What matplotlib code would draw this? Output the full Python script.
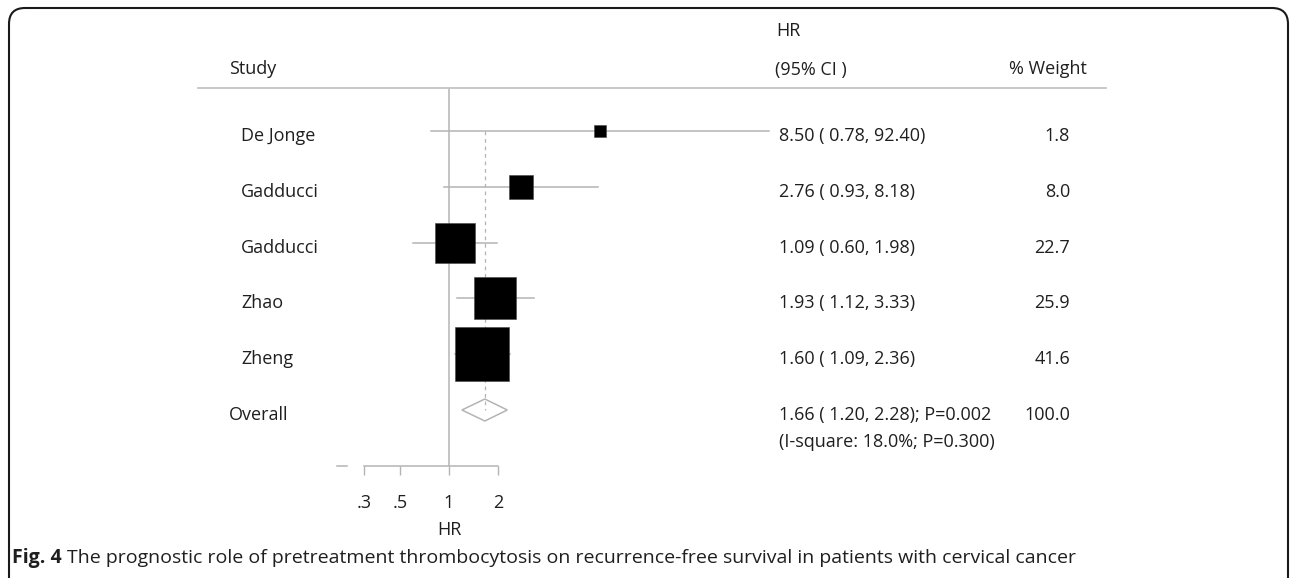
import numpy as np
import matplotlib
matplotlib.use('Agg')
import matplotlib.pyplot as plt
from matplotlib.patches import FancyBboxPatch, Polygon
from matplotlib.lines import Line2D
from matplotlib import transforms

plt.rcParams['font.family'] = ['Open Sans', 'DejaVu Sans']

# study level estimates
studies = ['De Jonge', 'Gadducci', 'Gadducci', 'Zhao', 'Zheng']
hr = [8.50, 2.76, 1.09, 1.93, 1.60]
lo = [0.78, 0.93, 0.60, 1.12, 1.09]
hi = [92.40, 8.18, 1.98, 3.33, 2.36]
weight = [1.8, 8.0, 22.7, 25.9, 41.6]

# pooled estimate
overall_hr = 1.66
overall_lo = 1.20
overall_hi = 2.28
overall_p = '0.002'
i2 = '18.0%'
i2_p = '0.300'

ticks = [0.3, 0.5, 1, 2]
tick_labels = ['.3', '.5', '1', '2']

W, H = 1290, 578
txt = '#1f1f1f'
grey = '#b4b4b4'
fs = 13
cap_fs = 14

fig = plt.figure(figsize=(W / 100, H / 100), dpi=100)

# log axis: 1 -> x=449px, 2 -> x=498px
K = 49 / np.log(2)
xmin, xmax = 0.18, 150
left_px = 449 + K * np.log(xmin)
right_px = 449 + K * np.log(xmax)
top_px, bot_px = 88, 466
row0, rowstep = 131, 55.8
ytop = (top_px - row0) / rowstep
ybot = (bot_px - row0) / rowstep

ax = fig.add_axes([left_px / W, 1 - bot_px / H, (right_px - left_px) / W, (bot_px - top_px) / H])
ax.set_xscale('log')
ax.set_xlim(xmin, xmax)
ax.set_ylim(ybot, ytop)
for s in ['top', 'right', 'left']:
    ax.spines[s].set_visible(False)
ax.spines['bottom'].set_bounds(0.3, 2)
ax.spines['bottom'].set_color(grey)
ax.spines['bottom'].set_linewidth(1.1)
ax.set_yticks([])
ax.xaxis.set_minor_locator(matplotlib.ticker.NullLocator())
ax.set_xticks(ticks)
ax.set_xticklabels(tick_labels)
ax.tick_params(axis='x', direction='out', length=6.5, width=1, color=grey,
               labelsize=fs, labelcolor=txt, pad=14)
ax.patch.set_visible(False)

# no-effect line
ax.axvline(1, color=grey, lw=1.1, zorder=1)
# small dash left of the axis
ax.plot([0.205, 0.235], [ybot, ybot], color=grey, lw=1.1, clip_on=False)

rows = np.arange(len(studies))
for i in rows:
    ax.plot([lo[i], hi[i]], [i, i], color=grey, lw=1.1, zorder=2)
    side = 8.4 * np.sqrt(weight[i]) * 0.72
    ax.plot(hr[i], i, marker='s', ms=side, color='black', mec='#444444', mew=0.4, zorder=3)

yo = len(studies)
dh = 11 / rowstep
diamond = Polygon([[overall_lo, yo], [overall_hr, yo - dh], [overall_hi, yo], [overall_hr, yo + dh]],
                  closed=True, facecolor='none', edgecolor=grey, lw=1.1, zorder=3)
ax.add_patch(diamond)
ax.plot([overall_hr, overall_hr], [0, yo], color=grey, lw=0.9, ls=(0, (3, 3)), zorder=2)

# text columns: x in figure pixels, y in data rows
tr = transforms.blended_transform_factory(fig.transFigure, ax.transData)
def px(x):
    return x / W

toff = 5 / rowstep
for i in rows:
    ax.text(px(241), i + toff, studies[i], transform=tr, ha='left', va='center', fontsize=fs, color=txt)
    ax.text(px(779), i + toff, f'{hr[i]:.2f} ( {lo[i]:.2f}, {hi[i]:.2f})', transform=tr,
            ha='left', va='center', fontsize=fs, color=txt)
    ax.text(px(1070), i + toff, f'{weight[i]:.1f}', transform=tr, ha='right', va='center',
            fontsize=fs, color=txt)

ax.text(px(229), yo + toff, 'Overall', transform=tr, ha='left', va='center', fontsize=fs, color=txt)
ax.text(px(779), yo + toff, f'{overall_hr:.2f} ( {overall_lo:.2f}, {overall_hi:.2f}); P={overall_p}',
        transform=tr, ha='left', va='center', fontsize=fs, color=txt)
ax.text(px(779), yo + toff + 27 / rowstep, f'(I-square: {i2}; P={i2_p})',
        transform=tr, ha='left', va='center', fontsize=fs, color=txt)
ax.text(px(1070), yo + toff, f'{sum(weight):.1f}', transform=tr, ha='right', va='center',
        fontsize=fs, color=txt)

# headers
fig.text(px(229), 1 - 69 / H, 'Study', ha='left', va='center', fontsize=fs, color=txt)
fig.text(px(776), 1 - 31 / H, 'HR', ha='left', va='center', fontsize=fs, color=txt)
fig.text(px(775), 1 - 70 / H, '(95% CI )', ha='left', va='center', fontsize=fs, color=txt)
fig.text(px(1087), 1 - 69 / H, '% Weight', ha='right', va='center', fontsize=fs, color=txt)
fig.add_artist(Line2D([px(198), px(1106)], [1 - 88 / H] * 2, color='#c4c4c4', lw=1.3))

# axis title
trx = transforms.blended_transform_factory(ax.transData, fig.transFigure)
ax.text(1, 1 - 530 / H, 'HR', transform=trx, ha='center', va='center', fontsize=fs, color=txt)

# rounded frame
frame = FancyBboxPatch((9, H - 595), 1288 - 9, 595 - 8, boxstyle='round,pad=0,rounding_size=16',
                       transform=None, facecolor='none', edgecolor='#1a1a1a', lw=1.5, clip_on=False)
fig.add_artist(frame)

# caption
cap_y = 1 - 558 / H
t1 = fig.text(px(12), cap_y, 'Fig. 4', ha='left', va='center', fontsize=cap_fs, fontweight='bold', color=txt)
fig.canvas.draw()
bb = t1.get_window_extent()
fig.text(px(bb.x1 + 5), cap_y, 'The prognostic role of pretreatment thrombocytosis on recurrence-free '
         'survival in patients with cervical cancer', ha='left', va='center', fontsize=cap_fs, color=txt)

fig.savefig('out.png', dpi=100)
